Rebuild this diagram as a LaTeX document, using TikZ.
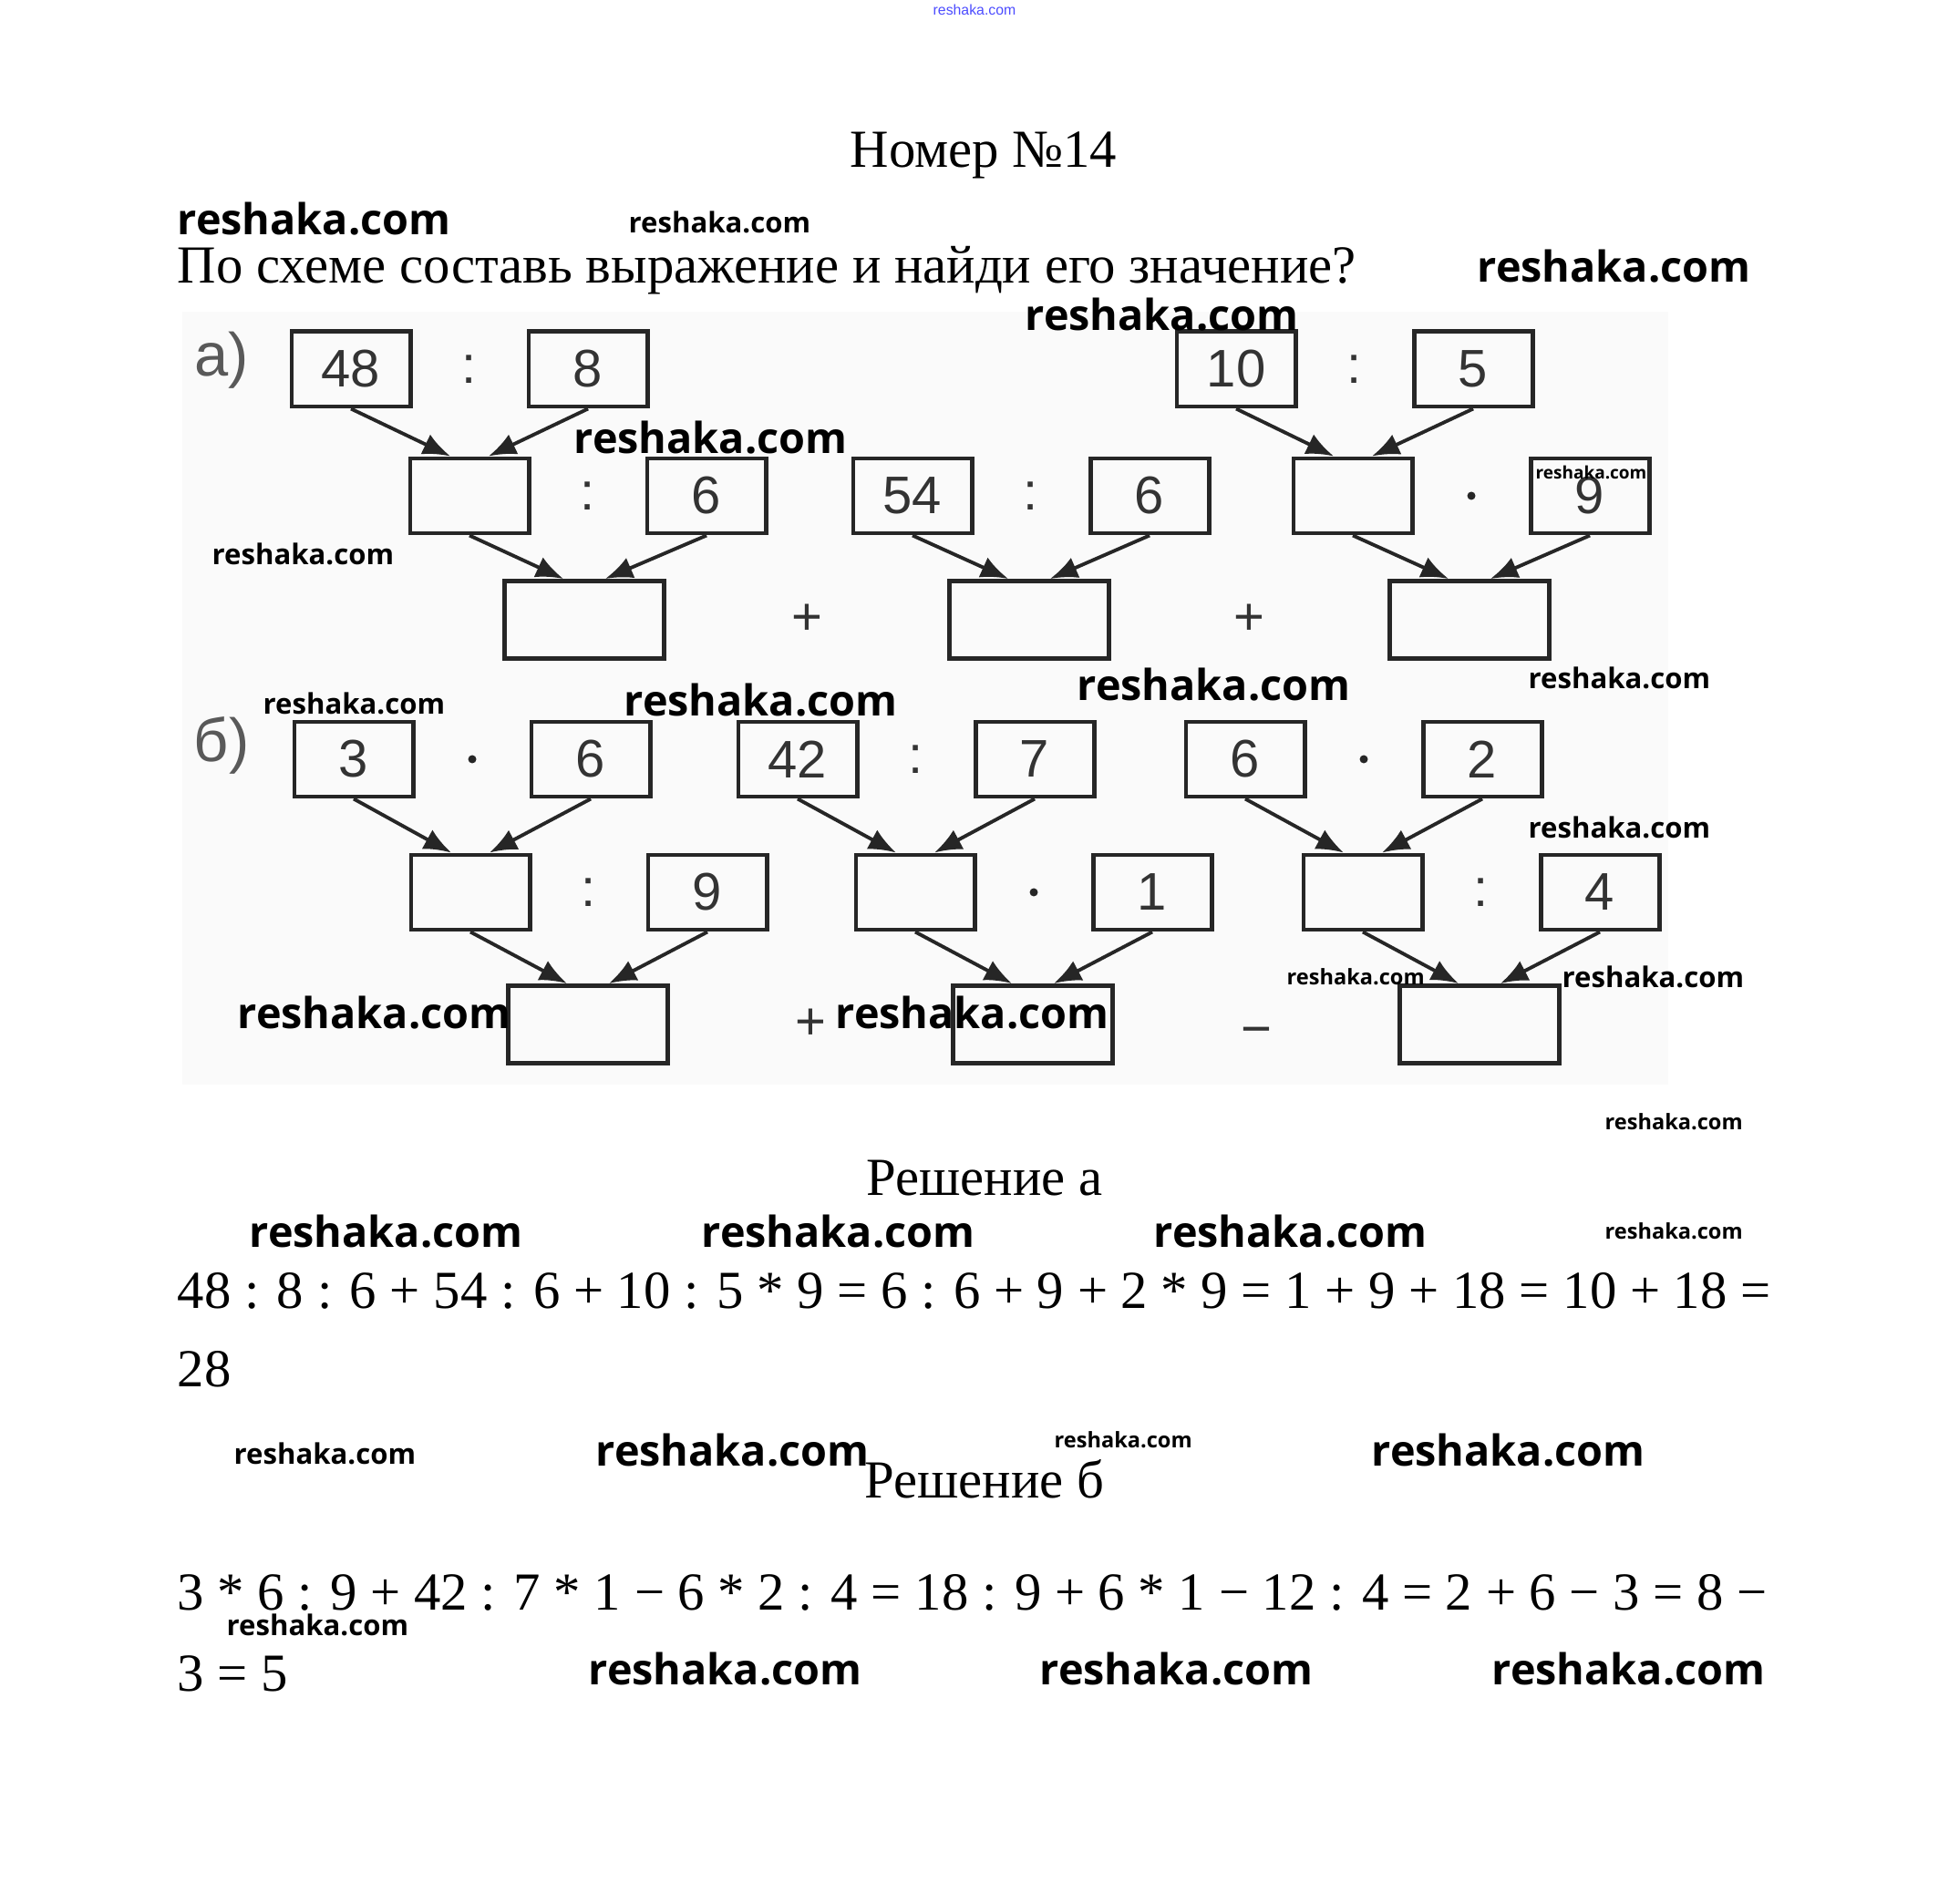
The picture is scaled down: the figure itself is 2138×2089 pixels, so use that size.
\documentclass[tikz,border=0pt]{standalone}
\usepackage{fontspec}
\setmainfont{Liberation Serif}
\newfontfamily\numfont{Liberation Sans}
\newfontfamily\wmfont{Open Sans}
\usetikzlibrary{arrows.meta, positioning, calc, backgrounds}

\begin{document}
\begin{tikzpicture}[
    x=0.01cm, y=-0.01cm,
    node distance=1.25cm,
    numbox/.style = {rectangle, draw=black!85, line width=1.4pt, minimum width=1.3cm, minimum height=0.82cm, inner sep=0pt, font=\numfont\fontsize{16.5}{16.5}\selectfont, text=black!80},
    sumbox/.style = {numbox, minimum width=1.74cm, minimum height=0.85cm},
    op/.style = {font=\numfont\fontsize{16.5}{16.5}\selectfont, text=black!80, inner sep=0pt},
    dotop/.style = {circle, fill=black!85, inner sep=0pt, minimum size=0.09cm},
    part/.style = {font=\numfont\fontsize{19}{19}\selectfont, text=black!65, inner sep=0pt},
    task/.style = {font=\fontsize{16.7}{20}\selectfont, inner sep=0pt},
    wmark/.style = {font=\wmfont\bfseries\fontsize{13.3}{13.3}\selectfont, inner sep=0pt, anchor=west},
    wsmall/.style = {wmark, font=\wmfont\bfseries\fontsize{8.85}{8.85}\selectfont},
    wtiny/.style = {wmark, font=\wmfont\bfseries\fontsize{6.7}{6.7}\selectfont},
    line/.style = {draw=black!85, line width=1.1pt, -{Latex[length=3mm,width=2.4mm]}},
]
\useasboundingbox (0,0) rectangle (2138,2089);

% Header
\node[font=\numfont\fontsize{4.5}{4.5}\selectfont, text=blue!70] (top) at (1069,11) {reshaka.com};
\node[task, anchor=base] (title) at (1079,184) {Номер №14};
\node[task, anchor=base west] (question) at (194,311) {По схеме составь выражение и найди его значение?};

% Part a
\node[part] (la) at (243,395) {а)};
\node[numbox] (a48) at (385,405) {48};
\node[numbox, right=of a48] (a8) {8};
\node[op] at ($(a48.east)!0.5!(a8.west)$) {:};
\node[numbox] (a10) at (1356,405) {10};
\node[numbox, right=of a10] (a5) {5};
\node[op] at ($(a10.east)!0.5!(a5.west)$) {:};

\node[numbox] (aq1) at (515,544) {};
\node[numbox, right=of aq1] (a6) {6};
\node[op] at ($(aq1.east)!0.5!(a6.west)$) {:};
\node[numbox] (a54) at (1001,544) {54};
\node[numbox, right=of a54] (a6b) {6};
\node[op] at ($(a54.east)!0.5!(a6b.west)$) {:};
\node[numbox] (aq2) at (1484,544) {};
\node[numbox, right=of aq2] (a9) {9};
\node[dotop] at ($(aq2.east)!0.5!(a9.west)$) {};

\node[sumbox] (as1) at (641,680) {};
\node[sumbox] (as2) at (1129,680) {};
\node[sumbox] (as3) at (1612,680) {};
\node[op] at ($(as1.east)!0.5!(as2.west)$) {+};
\node[op] at ($(as2.east)!0.5!(as3.west)$) {+};

% Part b
\node[part] (lb) at (243,818) {б)};
\node[numbox] (b3) at (388,833) {3};
\node[numbox, right=of b3] (b6) {6};
\node[dotop] at ($(b3.east)!0.5!(b6.west)$) {};
\node[numbox] (b42) at (875,833) {42};
\node[numbox, right=of b42] (b7) {7};
\node[op] at ($(b42.east)!0.5!(b7.west)$) {:};
\node[numbox] (b6b) at (1366,833) {6};
\node[numbox, right=of b6b] (b2) {2};
\node[dotop] at ($(b6b.east)!0.5!(b2.west)$) {};

\node[numbox] (bq1) at (516,979) {};
\node[numbox, right=of bq1] (b9) {9};
\node[op] at ($(bq1.east)!0.5!(b9.west)$) {:};
\node[numbox] (bq2) at (1004,979) {};
\node[numbox, right=of bq2] (b1) {1};
\node[dotop] at ($(bq2.east)!0.5!(b1.west)$) {};
\node[numbox] (bq3) at (1495,979) {};
\node[numbox, right=of bq3] (b4) {4};
\node[op] at ($(bq3.east)!0.5!(b4.west)$) {:};

\node[sumbox] (bs1) at (645,1124) {};
\node[sumbox] (bs2) at (1133,1124) {};
\node[sumbox] (bs3) at (1623,1124) {};
\node[op] at ($(bs1.east)!0.5!(bs2.west)$) {+};
\node[op, yshift=-0.14cm] at ($(bs2.east)!0.5!(bs3.west)$) {\textminus};

% Arrows
\path[line] (a48.south) -- ([xshift=-0.21cm]aq1.north);
\path[line] (a8.south) -- ([xshift=0.21cm]aq1.north);
\path[line] (a10.south) -- ([xshift=-0.21cm]aq2.north);
\path[line] (a5.south) -- ([xshift=0.21cm]aq2.north);
\path[line] (aq1.south) -- ([xshift=-0.23cm]as1.north);
\path[line] (a6.south) -- ([xshift=0.23cm]as1.north);
\path[line] (a54.south) -- ([xshift=-0.23cm]as2.north);
\path[line] (a6b.south) -- ([xshift=0.23cm]as2.north);
\path[line] (aq2.south) -- ([xshift=-0.23cm]as3.north);
\path[line] (a9.south) -- ([xshift=0.23cm]as3.north);

\path[line] (b3.south) -- ([xshift=-0.21cm]bq1.north);
\path[line] (b6.south) -- ([xshift=0.21cm]bq1.north);
\path[line] (b42.south) -- ([xshift=-0.21cm]bq2.north);
\path[line] (b7.south) -- ([xshift=0.21cm]bq2.north);
\path[line] (b6b.south) -- ([xshift=-0.21cm]bq3.north);
\path[line] (b2.south) -- ([xshift=0.21cm]bq3.north);
\path[line] (bq1.south) -- ([xshift=-0.23cm]bs1.north);
\path[line] (b9.south) -- ([xshift=0.23cm]bs1.north);
\path[line] (bq2.south) -- ([xshift=-0.23cm]bs2.north);
\path[line] (b1.south) -- ([xshift=0.23cm]bs2.north);
\path[line] (bq3.south) -- ([xshift=-0.23cm]bs3.north);
\path[line] (b4.south) -- ([xshift=0.23cm]bs3.north);

% Solutions
\node[task, anchor=base] (sola) at (1080,1312) {Решение а};
\node[task, anchor=base west] (linea) at (194,1436) {48 : 8 : 6 + 54 : 6 + 10 : 5 * 9 = 6 : 6 + 9 + 2 * 9 = 1 + 9 + 18 = 10 + 18 =};
\node[task, anchor=base west] (resa) at (194,1522) {28};
\node[task, anchor=base] (solb) at (1080,1644) {Решение б};
\node[task, anchor=base west] (lineb) at (194,1767) {3 * 6 : 9 + 42 : 7 * 1 − 6 * 2 : 4 = 18 : 9 + 6 * 1 − 12 : 4 = 2 + 6 − 3 = 8 −};
\node[task, anchor=base west] (resb) at (194,1856) {3 = 5};

% Watermarks
\node[wmark] at (194,240) {reshaka.com};
\node[wsmall] at (689,244) {reshaka.com};
\node[wmark] at (1620,292) {reshaka.com};
\node[wmark] at (1124,345) {reshaka.com};
\node[wmark] at (629,480) {reshaka.com};
\node[wtiny, font=\wmfont\bfseries\fontsize{5.4}{5.4}\selectfont] at (1684,518) {reshaka.com};
\node[wsmall] at (232,608) {reshaka.com};
\node[wsmall] at (1676,744) {reshaka.com};
\node[wmark] at (1181,751) {reshaka.com};
\node[wmark] at (684,768) {reshaka.com};
\node[wsmall] at (288,772) {reshaka.com};
\node[wsmall] at (1676,908) {reshaka.com};
\node[wtiny] at (1411,1072) {reshaka.com};
\node[wsmall] at (1713,1072) {reshaka.com};
\node[wmark] at (260,1111) {reshaka.com};
\node[wmark] at (916,1111) {reshaka.com};
\node[wtiny] at (1760,1231) {reshaka.com};
\node[wmark] at (273,1351) {reshaka.com};
\node[wmark] at (769,1351) {reshaka.com};
\node[wmark] at (1265,1351) {reshaka.com};
\node[wtiny] at (1760,1351) {reshaka.com};
\node[wtiny] at (1156,1580) {reshaka.com};
\node[wsmall] at (256,1595) {reshaka.com};
\node[wmark] at (653,1591) {reshaka.com};
\node[wmark] at (1504,1591) {reshaka.com};
\node[wsmall] at (248,1783) {reshaka.com};
\node[wmark] at (645,1831) {reshaka.com};
\node[wmark] at (1140,1831) {reshaka.com};
\node[wmark] at (1636,1831) {reshaka.com};

% Scan background
\begin{scope}[on background layer]
    \fill[black!2] (200,342) rectangle (1830,1190);
\end{scope}

\end{tikzpicture}
\end{document}
